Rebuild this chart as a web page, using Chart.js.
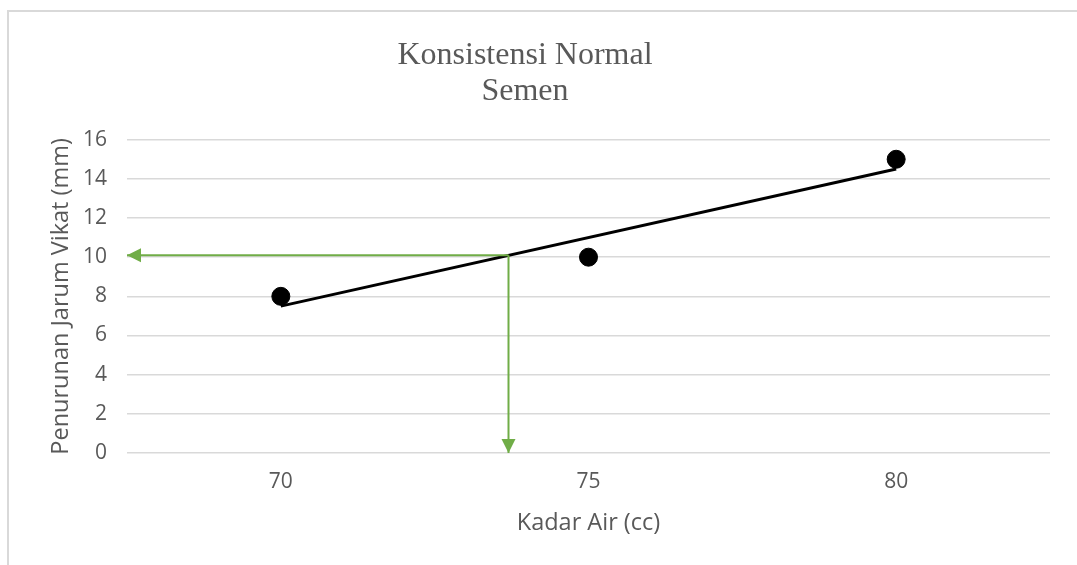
<!DOCTYPE html>
<html>
<head>
<meta charset="utf-8">
<script src="https://cdn.jsdelivr.net/npm/chart.js@4"></script>
<style>
  html, body { margin: 0; padding: 0; background: #fff; overflow: hidden; }
  #frame { position: absolute; left: 7px; top: 10px; width: 1100px; height: 600px;
           border-left: 2px solid #d9d9d9; border-top: 2px solid #d9d9d9; }
  #wrap { position: absolute; left: 0; top: 0; width: 1077px; height: 565px; }
</style>
</head>
<body>
<div id="frame"></div>
<div id="wrap"><canvas id="chart" width="1077" height="565"></canvas></div>
<script>
// data
const kadarAir = [70, 75, 80];
const penurunan = [8, 10, 15];
const xTicks = [70, 75, 80];
const yTicks = [0, 2, 4, 6, 8, 10, 12, 14, 16];

// linear trendline ends
const trendX = [70, 80];
const trendY = [7.5, 14.5];

// green guide arrows (from the trendline crossing at 10)
const guideX = 73.7;
const guideY = 10.1;
const horizArrowX = [guideX, 67.5];
const horizArrowY = [guideY, guideY];
const vertArrowX = [guideX, guideX];
const vertArrowY = [guideY, 0];

const grey = "#595959";
const green = "#70ad47";

function toPoints(xs, ys) {
  return xs.map((x, i) => ({ x: x, y: ys[i] }));
}

// draws an arrowhead at the last point of datasets flagged with arrow: true
const arrowHeads = {
  id: "arrowHeads",
  afterDatasetsDraw(chart) {
    const ctx = chart.ctx;
    chart.data.datasets.forEach((ds, i) => {
      if (!ds.arrow) return;
      const pts = chart.getDatasetMeta(i).data;
      const a = pts[pts.length - 2], b = pts[pts.length - 1];
      const ang = Math.atan2(b.y - a.y, b.x - a.x);
      const len = 14, half = 7;
      ctx.save();
      ctx.fillStyle = ds.borderColor;
      ctx.translate(b.x, b.y);
      ctx.rotate(ang);
      ctx.beginPath();
      ctx.moveTo(0, 0);
      ctx.lineTo(-len, -half);
      ctx.lineTo(-len, half);
      ctx.closePath();
      ctx.fill();
      ctx.restore();
    });
  }
};

new Chart(document.getElementById("chart"), {
  type: "scatter",
  data: {
    datasets: [
      {
        label: "Horizontal",
        data: toPoints(horizArrowX, horizArrowY),
        showLine: true,
        borderColor: green,
        borderWidth: 2,
        pointRadius: 0,
        arrow: true
      },
      {
        label: "Vertical",
        data: toPoints(vertArrowX, vertArrowY),
        showLine: true,
        borderColor: green,
        borderWidth: 2,
        pointRadius: 0,
        arrow: true
      },
      {
        label: "Data",
        data: toPoints(kadarAir, penurunan),
        backgroundColor: "#000",
        borderColor: "#000",
        pointRadius: 9,
        pointHoverRadius: 9
      },
      {
        label: "Trendline",
        data: toPoints(trendX, trendY),
        showLine: true,
        borderColor: "#000",
        borderWidth: 3,
        pointRadius: 0
      }
    ]
  },
  options: {
    responsive: false,
    animation: false,
    layout: { padding: { left: 0, right: 27, top: 0, bottom: 0 } },
    plugins: {
      legend: { display: false },
      tooltip: { enabled: false },
      title: {
        display: true,
        text: ["Konsistensi Normal", "Semen"],
        color: grey,
        font: { family: "'Liberation Serif', 'Times New Roman', serif", size: 32, weight: "normal", lineHeight: 1.12 },
        padding: { top: 38, bottom: 30 }
      }
    },
    scales: {
      x: {
        type: "linear",
        min: 67.5,
        max: 82.5,
        afterBuildTicks: s => { s.ticks = xTicks.map(v => ({ value: v })); },
        afterFit: s => { s.height = 112; },
        grid: { display: false, drawTicks: false },
        border: { display: false },
        ticks: { color: grey, padding: 16, font: { family: "'Open Sans', sans-serif", size: 21 } },
        title: {
          display: true,
          text: "Kadar Air (cc)",
          color: grey,
          font: { family: "'Open Sans', sans-serif", size: 23.5 },
          padding: { top: 0, bottom: 28 }
        }
      },
      y: {
        min: 0,
        max: 16,
        afterBuildTicks: s => { s.ticks = yTicks.map(v => ({ value: v })); },
        afterFit: s => { s.width = 127; },
        grid: { color: "#d9d9d9", lineWidth: 1.5, drawTicks: false },
        border: { display: false },
        ticks: { color: grey, padding: 20, font: { family: "'Open Sans', sans-serif", size: 21 } },
        title: {
          display: true,
          text: "Penurunan Jarum Vikat (mm)",
          color: grey,
          font: { family: "'Open Sans', sans-serif", size: 23.5 },
          padding: { top: 47, bottom: 0 }
        }
      }
    }
  },
  plugins: [arrowHeads]
});
</script>
</body>
</html>
